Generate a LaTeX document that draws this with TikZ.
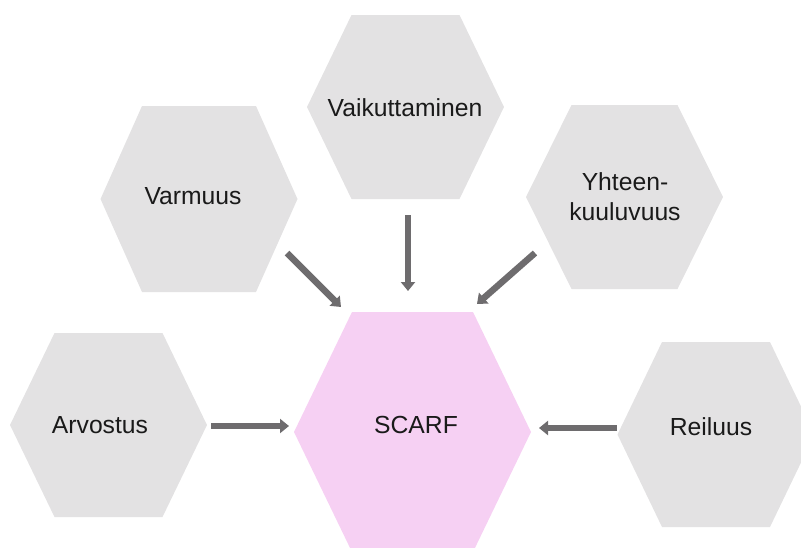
\documentclass[tikz,border=0pt]{standalone}
\usepackage{fontspec}
\setmainfont{Liberation Sans}
\usetikzlibrary{arrows.meta}
\definecolor{hexgrey}{HTML}{E3E2E3}
\definecolor{hexpink}{HTML}{F6D0F3}
\definecolor{arrowgrey}{HTML}{6E6C6E}
\definecolor{txt}{HTML}{1A1A1A}
\newcommand\hexshape[6]{% fill, cx, cy, hw, hh, te
  \fill[#1] (#2-#4,#3) -- (#2-#6,#3-#5) -- (#2+#6,#3-#5) -- (#2+#4,#3) -- (#2+#6,#3+#5) -- (#2-#6,#3+#5) -- cycle;}
\begin{document}
\begin{tikzpicture}[x=1pt,y=-1pt,
  label/.style={text=txt,font=\fontsize{24.7}{30}\selectfont,align=center,inner sep=0pt},
  conn/.style={draw=arrowgrey,line width=6.5pt,-{Triangle[width=14pt,length=9pt]}}]
\useasboundingbox (0,0) rectangle (801,547);
\hexshape{hexgrey}{108.5}{425}{98.5}{92}{54}
\hexshape{hexgrey}{199}{199}{98.5}{93}{57}
\hexshape{hexgrey}{405.5}{107}{98.5}{92}{54}
\hexshape{hexgrey}{624.5}{197}{98.5}{92}{53}
\hexshape{hexgrey}{716}{434.5}{98.5}{92.5}{54}
\hexshape{hexpink}{412.5}{432}{118.5}{120}{60.5}
\node[label] (scarf) at (416,425) {SCARF};
\node[label] (arv) at (100,425) {Arvostus};
\node[label] (var) at (193,196) {Varmuus};
\node[label] (vai) at (405,108) {Vaikuttaminen};
\node[label] (yht) at (625,197) {Yhteen-\\kuuluvuus};
\node[label] (rei) at (711,427) {Reiluus};
\coordinate (a1) at (211,426); \coordinate (b1) at (289,426);
\coordinate (a2) at (287,253); \coordinate (b2) at (341,307);
\coordinate (a3) at (408,215); \coordinate (b3) at (408,291);
\coordinate (a4) at (535,253); \coordinate (b4) at (477,304);
\coordinate (a5) at (617,428); \coordinate (b5) at (539,428);
\draw[conn] (a1) -- (b1);
\draw[conn] (a2) -- (b2);
\draw[conn] (a3) -- (b3);
\draw[conn] (a4) -- (b4);
\draw[conn] (a5) -- (b5);
\end{tikzpicture}
\end{document}
